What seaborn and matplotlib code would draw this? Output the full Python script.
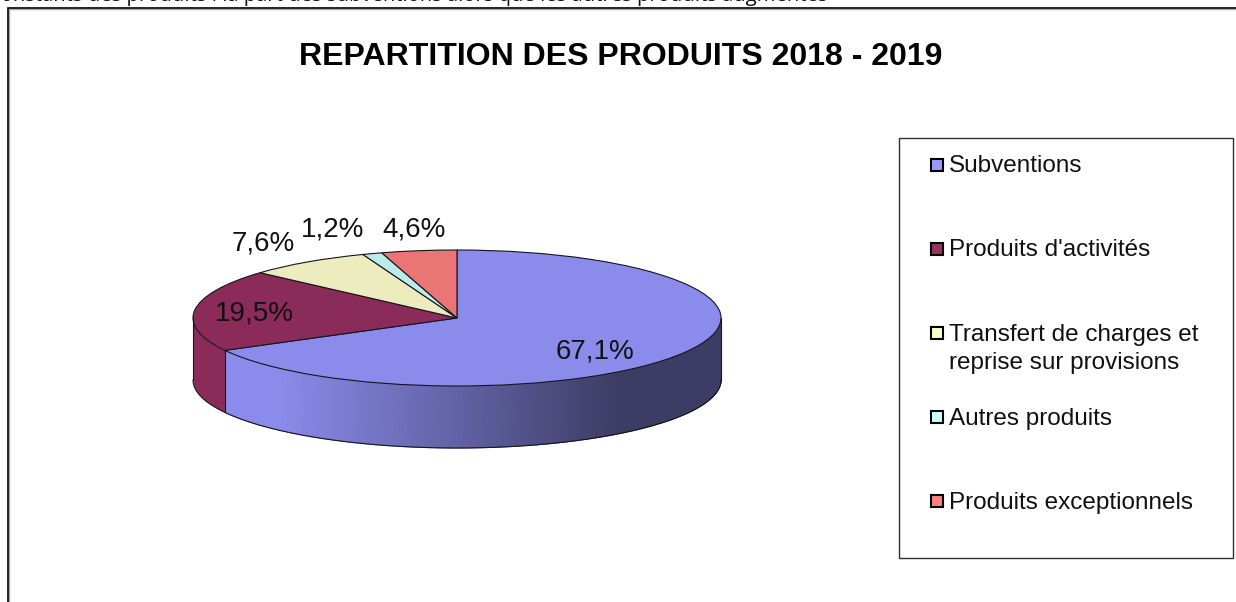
import numpy as np
import matplotlib
matplotlib.use("Agg")
import matplotlib.pyplot as plt
from matplotlib.patches import Rectangle
import seaborn as sns

# Données
categories = ["Subventions", "Produits d'activités", "Transfert de charges et\nreprise sur provisions",
              "Autres produits", "Produits exceptionnels"]
valeurs = [67.1, 19.5, 7.6, 1.2, 4.6]
etiquettes = ["67,1%", "19,5%", "7,6%", "1,2%", "4,6%"]
titre = "REPARTITION DES PRODUITS 2018 - 2019"
texte_haut = "Constants des produits : la part des subventions alors que les autres produits augmentés"

couleurs_pie = ["#8B8BEB", "#8A2B5A", "#ECECBE", "#BBEBEB", "#EB7575"]
couleurs_legende = ["#9999FF", "#993366", "#FFFFCC", "#CCFFFF", "#FF8080"]

sns.set_theme(style="white")
plt.rcParams['font.family'] = ['Liberation Sans', 'DejaVu Sans']

W, H = 1236, 602
fig = plt.figure(figsize=(W / 100, H / 100), dpi=100, facecolor="white")

# Calque en pixels pour le cadre, les textes et la légende
ov = fig.add_axes([0, 0, 1, 1], zorder=3)
ov.set_xlim(0, W)
ov.set_ylim(H, 0)
ov.axis("off")
ov.patch.set_alpha(0)

# Axe du camembert : l'ellipse remplit l'axe
gauche, droite, haut, bas = 193, 721, 250, 386
ax = fig.add_axes([gauche / W, 1 - bas / H, (droite - gauche) / W, (bas - haut) / H], zorder=2)
wedges, _ = ax.pie(valeurs, colors=couleurs_pie, startangle=90, counterclock=False, radius=1,
                   wedgeprops=dict(edgecolor="#15151F", linewidth=0.8))
ax.set_aspect("auto")
ax.set_xlim(-1, 1)
ax.set_ylim(-1, 1)
for w in wedges:
    w.set_clip_on(False)

# Paroi latérale, calculée à partir des parts
prof = 62 / 68
cumul = np.cumsum(valeurs) / np.sum(valeurs)
fin_sub = np.deg2rad(90 - 360 * cumul[0])
degrade = sns.blend_palette(["#8B8BEB", "#3C3C64"], as_cmap=True)

t = np.linspace(fin_sub, 0, 300)
X = np.vstack([np.cos(t), np.cos(t)])
Y = np.vstack([np.sin(t), np.sin(t) - prof])
# dégradé selon x : clair vers x=280 px, sombre vers x=620 px
C = np.clip((X + 0.67) / 1.29, 0, 1)
ax.pcolormesh(X, Y, C, cmap=degrade, shading="gouraud", vmin=0, vmax=1, zorder=0.5, clip_on=False)

t2 = np.linspace(-np.pi, fin_sub, 60)
ax.fill_between(np.cos(t2), np.sin(t2), np.sin(t2) - prof, color=couleurs_pie[1], lw=0, zorder=0.5, clip_on=False)

# Contours de la paroi
t3 = np.linspace(-np.pi, 0, 300)
ax.plot(np.cos(t3), np.sin(t3) - prof, color="#15151F", lw=0.8, clip_on=False, zorder=1)
ax.plot([-1, -1], [0, -prof], color="#15151F", lw=0.8, clip_on=False, zorder=1)
ax.plot([1, 1], [0, -prof], color="#15151F", lw=0.8, clip_on=False, zorder=1)
ax.plot([np.cos(fin_sub)] * 2, [np.sin(fin_sub), np.sin(fin_sub) - prof], color="#15151F", lw=0.8,
        clip_on=False, zorder=1)

# Cadre du graphique (coupé à droite et en bas)
ov.plot([9, 9], [H + 5, 9], color="#AAAAAA", lw=1.0)
ov.plot([9, W + 5], [9, 9], color="#AAAAAA", lw=1.0)
ov.plot([8, 8, W + 5], [H + 5, 8, 8], color="black", lw=1.2, clip_on=False, solid_joinstyle="miter")

# Titre et ligne de texte coupée en haut de page
ov.text(620.5, 57, titre, ha="center", va="center", fontsize=23, fontweight="bold", color="black")
ov.text(-12, 0.8, texte_haut, ha="left", va="baseline", fontsize=14.6, color="#111111",
        family=["Open Sans", "DejaVu Sans"])

# Étiquettes de pourcentage
pos_etiquettes = [(595, 351), (254, 314), (263, 244), (333, 229), (414, 229)]
for lab, (x, y) in zip(etiquettes, pos_etiquettes):
    ov.text(x, y, lab, ha="center", va="center", fontsize=20, color="#111111")

# Légende
ov.add_patch(Rectangle((899, 138), 334, 420, facecolor="white", edgecolor="#303030", lw=1.0, zorder=1))
y_leg = [165, 249, 333, 417, 501]
for cat, coul, y in zip(categories, couleurs_legende, y_leg):
    ov.add_patch(Rectangle((931, y - 6), 12, 12, facecolor=coul, edgecolor="black", lw=1.5, zorder=2))
    for i, ligne in enumerate(cat.split("\n")):
        ov.text(949, y + 1.5 + i * 28, ligne, ha="left", va="center", fontsize=17.5, color="#111111", zorder=2)

fig.savefig("out.png", dpi=100)
